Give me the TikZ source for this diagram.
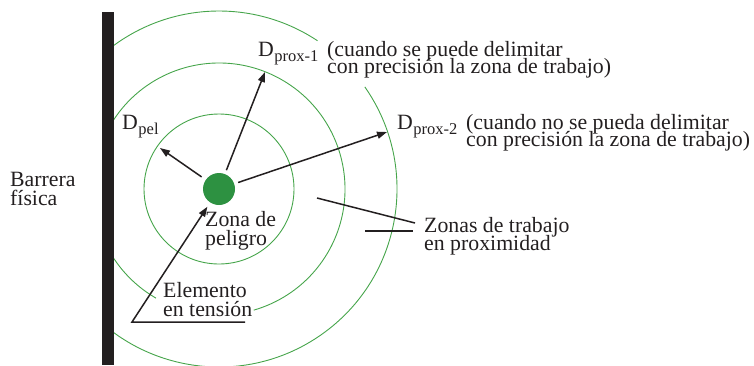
\documentclass[tikz,border=0pt]{standalone}
\usepackage{fontspec}
\setmainfont{Liberation Serif}
\usetikzlibrary{arrows.meta}
\definecolor{ringgreen}{RGB}{70,165,75}
\definecolor{dotgreen}{RGB}{45,145,65}
\definecolor{barblack}{RGB}{35,31,32}
\newcommand\twol[3][18bp]{\vtop{\lineskiplimit=-100bp\lineskip=0pt\baselineskip=#1\hbox{#2}\hbox{#3}}}
\newcommand\dsub[1]{D\kern0.5bp\raisebox{-5bp}{\fontsize{16.5bp}{16.5bp}\selectfont #1}}
\begin{document}
\begin{tikzpicture}[x=1bp,y=-1bp,
  lbl/.style={inner sep=0pt, anchor=base west, font=\fontsize{21.8bp}{18bp}\selectfont, text=barblack},
  ring/.style={draw=ringgreen, line width=0.9bp},
  arr/.style={draw=barblack, line width=1.5bp, -{Triangle[length=10bp,width=7bp]}},
  lead/.style={draw=barblack, line width=1.5bp}]
\useasboundingbox (0,0) rectangle (754,365);
\coordinate (c) at (219,189);
\begin{scope}
  \clip (102,0) rectangle (754,365);
  \draw[ring] (c) circle[radius=75];
  \draw[ring] (c) ++(120:126) arc[start angle=120, end angle=434, radius=126];
  \draw[ring] (c) ++(-35:178) arc[start angle=-35, end angle=303.6, radius=178];
\end{scope}
\fill[barblack] (102,12) rectangle (114,365);
\node[circle, fill=dotgreen, minimum size=32bp, inner sep=0pt] (dot) at (c) {};
% labels
\node[lbl] (barrera) at (10,186) {\twol[19bp]{Barrera}{física}};
\node[lbl] (dpel) at (122,129) {\dsub{pel}};
\node[lbl] (dp1) at (258,56) {\dsub{prox-1}};
\node[lbl] (n1) at (327,56) {\twol[17.5bp]{(cuando se puede delimitar}{con precisión la zona de trabajo)}};
\node[lbl] (dp2) at (397,129) {\dsub{prox-2}};
\node[lbl] (n2) at (466,129) {\twol[17.5bp]{(cuando no se pueda delimitar}{con precisión la zona de trabajo)}};
\node[lbl] (zona) at (205,226) {\twol[19bp]{Zona de}{peligro}};
\node[lbl] (elem) at (163,297) {\twol[19bp]{Elemento}{en tensión}};
\node[lbl] (zonas) at (424,232) {\twol{Zonas de trabajo}{en proximidad}};
% arrows
\coordinate (pelEnd) at (160,148);
\coordinate (p1End) at (265,72);
\coordinate (p2End) at (387,132);
\coordinate (elbow) at (132,322);
\coordinate (ulEnd) at (245,322);
\draw[arr, shorten <=5bp] (dot) -- (pelEnd);
\draw[arr, shorten <=4bp] (dot) -- (p1End);
\draw[arr, shorten <=4bp] (dot) -- (p2End);
\draw[arr, shorten >=5bp] (ulEnd) -- (elbow) -- (dot);
% leaders
\coordinate (z1) at (317,198);
\coordinate (z2) at (365,231);
\draw[lead] (z1) -- ([shift={(-9,-9)}]zonas.base west);
\draw[lead] (z2) -- ([shift={(-11,-1)}]zonas.base west);
\end{tikzpicture}
\end{document}
